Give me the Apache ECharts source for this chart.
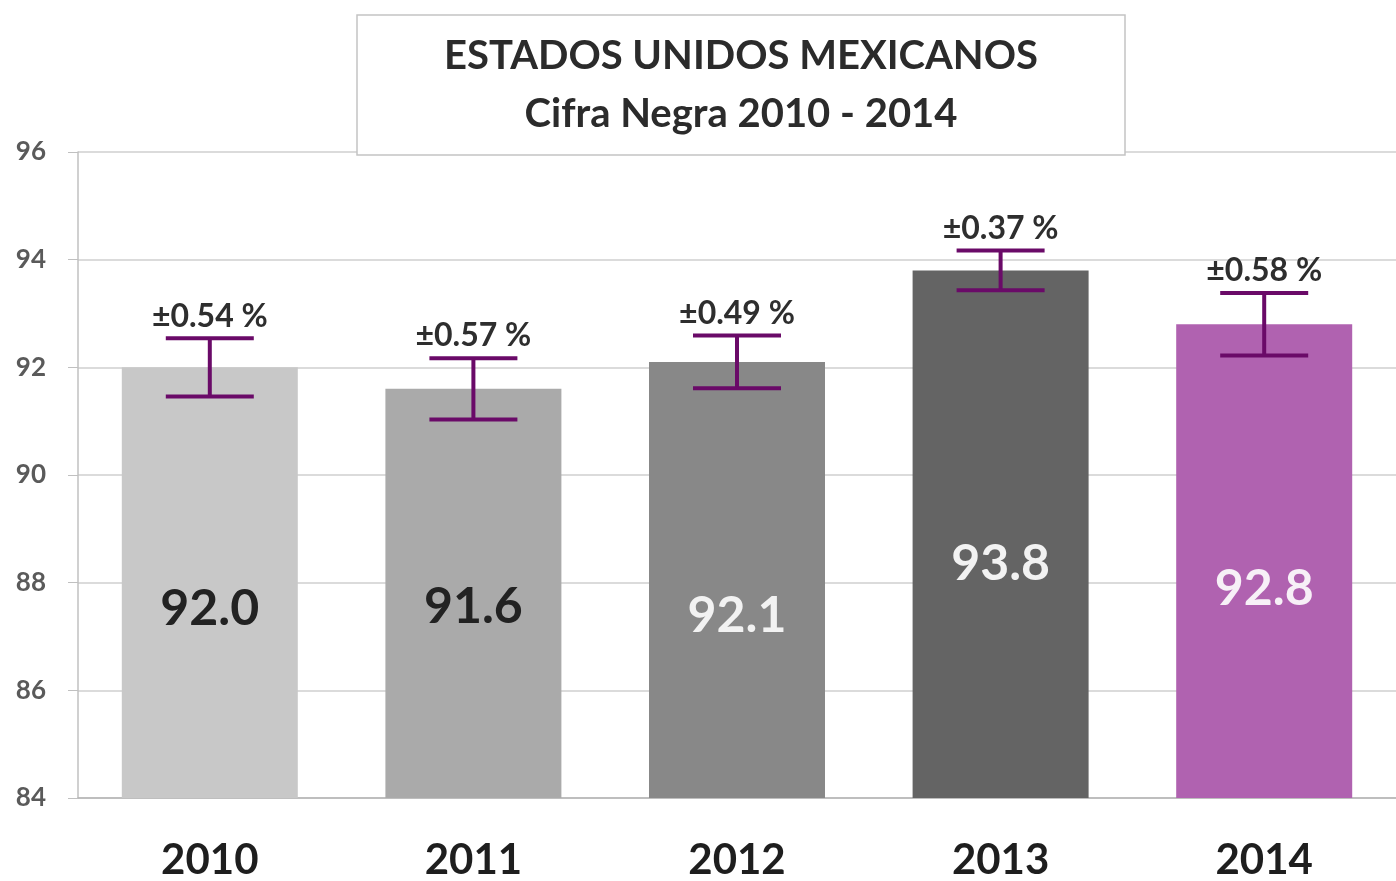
<!DOCTYPE html>
<html>
<head>
<meta charset="utf-8">
<script src="https://cdn.jsdelivr.net/npm/echarts@6/dist/echarts.min.js"></script>
<style>
  html, body { margin: 0; padding: 0; background: #fff; }
  #main { width: 1396px; height: 881px; }
</style>
</head>
<body>
<div id="main"></div>
<script>
// datos
var years = ['2010', '2011', '2012', '2013', '2014'];
var cifraNegra = [92.0, 91.6, 92.1, 93.8, 92.8];
var errores = [0.54, 0.57, 0.49, 0.37, 0.58];
var yTicks = [84, 86, 88, 90, 92, 94, 96];

// estilos
var barColors = ['#c8c8c8', '#aaaaaa', '#888888', '#646464', '#b062b0'];
var labelColors = ['#222222', '#222222', '#f2f2f2', '#f2f2f2', '#f7f0f7'];
var labelShift = [26, 13, 36, 30, 28];
var errColor = '#6a0a68';
var fontFam = 'Lato, "Open Sans", sans-serif';

var chart = echarts.init(document.getElementById('main'));

var barData = cifraNegra.map(function (v, i) {
    return {
        value: v,
        itemStyle: { color: barColors[i] },
        label: { color: labelColors[i], offset: [0, labelShift[i]] }
    };
});

var errData = cifraNegra.map(function (v, i) {
    return [i, v - errores[i], v + errores[i], errores[i]];
});

var option = {
    animation: false,
    backgroundColor: '#ffffff',
    grid: { left: 78, right: 0, top: 152, bottom: 81 },
    graphic: [
        {
            type: 'rect',
            shape: { x: 357, y: 15, width: 768, height: 140 },
            style: { fill: '#ffffff', stroke: '#c4c4c4', lineWidth: 1.5 },
            z: 10
        },
        {
            type: 'text',
            x: 741, y: 85,
            style: {
                text: 'ESTADOS UNIDOS MEXICANOS\nCifra Negra 2010 - 2014',
                font: 'bold 40px ' + fontFam,
                fill: '#2b2b2b',
                align: 'center',
                verticalAlign: 'middle',
                lineHeight: 58
            },
            z: 11
        }
    ],
    xAxis: {
        type: 'category',
        data: years,
        axisLine: { lineStyle: { color: '#b5b5b5', width: 1.5 } },
        axisTick: { length: 14, lineStyle: { color: '#b5b5b5', width: 1.5 } },
        axisLabel: {
            margin: 41,
            fontSize: 42,
            fontWeight: 'bold',
            fontFamily: fontFam,
            color: '#1e1e1e'
        }
    },
    yAxis: {
        type: 'value',
        min: yTicks[0],
        max: yTicks[yTicks.length - 1],
        interval: 2,
        axisLine: { show: true, lineStyle: { color: '#c0c0c0', width: 1.5 } },
        axisTick: { show: true, length: 10, lineStyle: { color: '#c0c0c0' } },
        splitLine: { lineStyle: { color: '#cfcfcf', width: 1.5 } },
        axisLabel: {
            margin: 32,
            fontSize: 26,
            fontWeight: 'bold',
            fontFamily: fontFam,
            color: '#5a5a5a'
        }
    },
    series: [
        {
            type: 'bar',
            barWidth: 176,
            data: barData,
            label: {
                show: true,
                position: 'inside',
                fontSize: 50,
                fontWeight: 'bold',
                fontFamily: fontFam,
                formatter: function (p) { return p.value.toFixed(1); }
            }
        },
        {
            type: 'custom',
            data: errData,
            z: 5,
            renderItem: function (params, api) {
                var i = api.value(0);
                var lo = api.coord([i, api.value(1)]);
                var hi = api.coord([i, api.value(2)]);
                var half = 44;
                var st = { stroke: errColor, lineWidth: 4 };
                return {
                    type: 'group',
                    children: [
                        { type: 'line', shape: { x1: hi[0], y1: hi[1], x2: lo[0], y2: lo[1] }, style: st },
                        { type: 'line', shape: { x1: hi[0] - half, y1: hi[1], x2: hi[0] + half, y2: hi[1] }, style: st },
                        { type: 'line', shape: { x1: lo[0] - half, y1: lo[1], x2: lo[0] + half, y2: lo[1] }, style: st },
                        {
                            type: 'text',
                            x: hi[0], y: hi[1] - 6,
                            style: {
                                text: '\u00b1' + api.value(3).toFixed(2) + ' %',
                                font: 'bold 32px ' + fontFam,
                                fill: '#2e2e2e',
                                align: 'center',
                                verticalAlign: 'bottom'
                            }
                        }
                    ]
                };
            }
        }
    ]
};

chart.setOption(option);
</script>
</body>
</html>
